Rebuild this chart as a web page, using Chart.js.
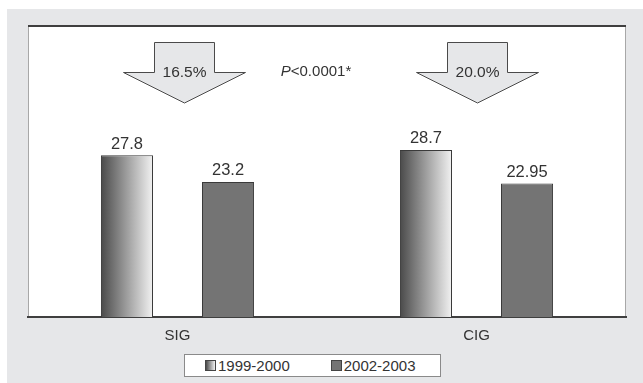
<!DOCTYPE html>
<html>
<head>
<meta charset="utf-8">
<script src="https://cdn.jsdelivr.net/npm/chart.js@4"></script>
<style>
  body { margin: 0; background: #fff; font-family: "Liberation Sans", Arial, sans-serif; }
  .wrap { position: relative; width: 643px; height: 383px; }
  .panel { position: absolute; left: 7px; top: 9px; width: 636px; height: 374px; background: #e6e7e9; }
  canvas { position: absolute; left: 0; top: 0; }
  .legend {
    position: absolute; left: 184px; top: 354px; width: 255px; height: 21px;
    background: #fff; border: 1px solid #8a8a8a;
    display: flex; align-items: center; font-size: 15px; color: #333;
  }
  .legend .item { display: flex; align-items: center; }
  .legend .sw { width: 9px; height: 9px; border: 1px solid #444; margin-right: 2px; }
</style>
</head>
<body>
<div class="wrap">
  <div class="panel"></div>
  <canvas id="chart" width="643" height="383"></canvas>
  <div class="legend" id="legend"></div>
</div>
<script>
// data
const categories = ["SIG", "CIG"];
const seriesNames = ["1999-2000", "2002-2003"];
const before = [27.8, 28.7];
const after = [23.2, 22.95];
const dropLabels = ["16.5%", "20.0%"];
const pText = "<0.0001*";

const FONT = '"Liberation Sans", Arial, sans-serif';
const TEXT = "#333";
const SOLID = "#747474";
Chart.defaults.font.family = FONT;

function barGradient(ctx, x0, x1) {
  const g = ctx.createLinearGradient(x0, 0, x1, 0);
  g.addColorStop(0, "#4a4a4a");
  g.addColorStop(1, "#f2f2f2");
  return g;
}

const decor = {
  id: "decor",
  beforeDraw(chart) {
    const { ctx, chartArea: a } = chart;
    ctx.save();
    ctx.fillStyle = "#fff";
    ctx.fillRect(a.left, a.top, a.right - a.left, a.bottom - a.top);
    // side borders
    ctx.strokeStyle = "#a8a8a8";
    ctx.lineWidth = 1;
    ctx.beginPath();
    ctx.moveTo(a.left + 0.5, a.top); ctx.lineTo(a.left + 0.5, a.bottom);
    ctx.moveTo(a.right - 0.5, a.top); ctx.lineTo(a.right - 0.5, a.bottom);
    ctx.stroke();
    // top rule
    ctx.fillStyle = "#3f3f3f";
    ctx.fillRect(a.left, a.top - 1, a.right - a.left, 2);
    ctx.restore();
  },
  beforeDatasetsDraw(chart) {
    const ctx = chart.ctx;
    chart.getDatasetMeta(0).data.forEach((bar) => {
      const { x, width } = bar.getProps(["x", "width"], true);
      bar.options = Object.assign({}, bar.options, {
        backgroundColor: barGradient(ctx, x - width / 2, x + width / 2),
      });
    });
  },
  afterDatasetsDraw(chart) {
    const ctx = chart.ctx;
    ctx.save();
    ctx.fillStyle = TEXT;
    ctx.font = "16.5px " + FONT;
    ctx.textAlign = "center";
    ctx.textBaseline = "bottom";
    chart.data.datasets.forEach((ds, di) => {
      chart.getDatasetMeta(di).data.forEach((bar, i) => {
        ctx.fillText(String(ds.data[i]), bar.x, bar.y - 3);
      });
    });
    ctx.restore();
  },
  afterDraw(chart) {
    const { ctx, chartArea: a, scales } = chart;
    const shift = [7, 1];
    ctx.save();
    dropLabels.forEach((lab, i) => {
      const cx = scales.x.getPixelForValue(i) + shift[i];
      const top = a.top + 16.5, wing = a.top + 46.5, tip = a.top + 77;
      ctx.beginPath();
      ctx.moveTo(cx - 30, top);
      ctx.lineTo(cx + 30, top);
      ctx.lineTo(cx + 30, wing);
      ctx.lineTo(cx + 61, wing);
      ctx.lineTo(cx, tip);
      ctx.lineTo(cx - 61, wing);
      ctx.lineTo(cx - 30, wing);
      ctx.closePath();
      ctx.fillStyle = "#e6e7e9";
      ctx.fill();
      ctx.strokeStyle = "#4a4a4a";
      ctx.lineWidth = 1;
      ctx.stroke();
      ctx.fillStyle = TEXT;
      ctx.font = "15.5px " + FONT;
      ctx.textAlign = "center";
      ctx.textBaseline = "middle";
      ctx.fillText(lab, cx, wing);
    });
    // significance note
    ctx.font = "italic 15px " + FONT;
    const wP = ctx.measureText("P").width;
    ctx.font = "15px " + FONT;
    const wR = ctx.measureText(pText).width;
    let x = (a.left + a.right) / 2 - 11 - (wP + wR) / 2;
    ctx.textAlign = "left";
    ctx.textBaseline = "middle";
    ctx.fillStyle = TEXT;
    ctx.font = "italic 15px " + FONT;
    ctx.fillText("P", x, a.top + 46);
    ctx.font = "15px " + FONT;
    ctx.fillText(pText, x + wP, a.top + 46);
    ctx.restore();
  },
};

new Chart(document.getElementById("chart"), {
  type: "bar",
  data: {
    labels: categories,
    datasets: [
      {
        label: seriesNames[0],
        data: before,
        backgroundColor: "#999",
        borderColor: "#3a3a3a",
        borderWidth: 1,
        borderSkipped: "bottom",
      },
      {
        label: seriesNames[1],
        data: after,
        backgroundColor: SOLID,
        borderColor: "#3a3a3a",
        borderWidth: 1,
        borderSkipped: "bottom",
      },
    ],
  },
  options: {
    responsive: false,
    animation: false,
    devicePixelRatio: 1,
    categoryPercentage: 0.676,
    barPercentage: 0.515,
    layout: { padding: { left: 28, right: 17, top: 26, bottom: 28 } },
    plugins: {
      legend: { display: false },
      tooltip: { enabled: false },
    },
    scales: {
      y: { display: false, min: 0, max: 50 },
      x: {
        grid: { display: false, drawTicks: false },
        border: { display: true, color: "#3f3f3f", width: 2 },
        ticks: { color: TEXT, font: { size: 15 }, padding: 10 },
      },
    },
  },
  plugins: [decor],
});

// html legend
const legendEl = document.getElementById("legend");
const swatches = ["linear-gradient(to right, #4a4a4a, #f2f2f2)", SOLID];
seriesNames.forEach((name, i) => {
  const item = document.createElement("div");
  item.className = "item";
  item.style.marginLeft = i === 0 ? "20px" : "41px";
  const sw = document.createElement("span");
  sw.className = "sw";
  sw.style.background = swatches[i];
  const t = document.createElement("span");
  t.textContent = name;
  item.appendChild(sw);
  item.appendChild(t);
  legendEl.appendChild(item);
});
</script>
</body>
</html>
